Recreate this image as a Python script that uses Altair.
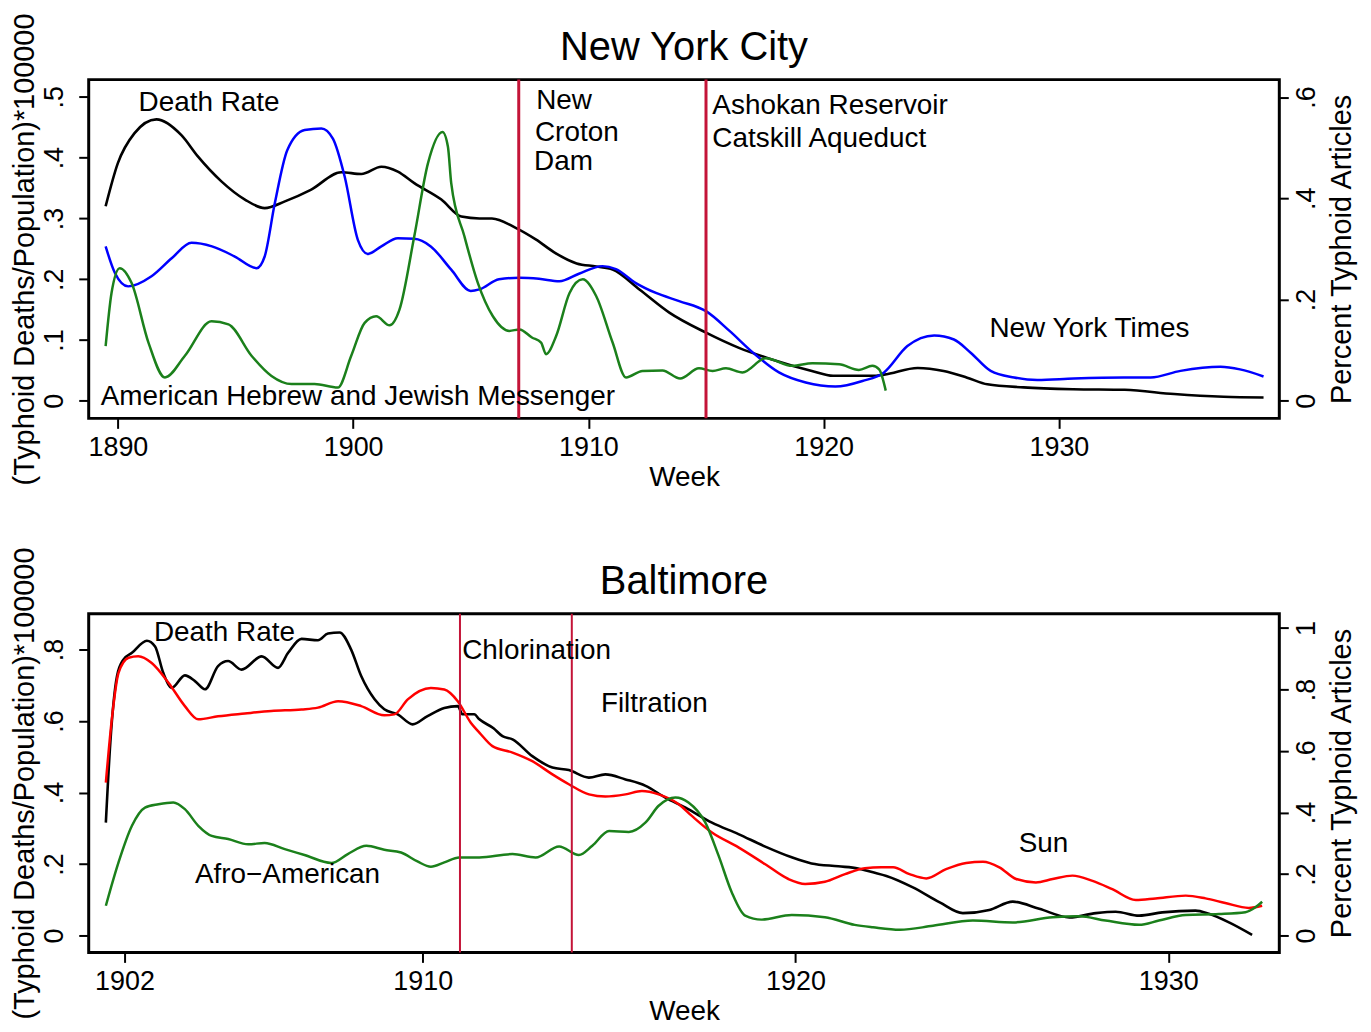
import altair as alt
import pandas as pd

FONT = "Liberation Sans"

# ---------------- New York City ----------------
nyc_death_year = [1889.48, 1890.0, 1890.7, 1891.64, 1892.7, 1893.4, 1894.4, 1895.4, 1896.24, 1897.1,
                  1898.2, 1899.5, 1900.35, 1901.2, 1901.9, 1902.6, 1903.75, 1904.6, 1905.37, 1905.9,
                  1906.93, 1907.78, 1908.6, 1909.5, 1910.33, 1911.03, 1912.17, 1913.44, 1915.0, 1916.4,
                  1917.8, 1919.5, 1920.4, 1922.07, 1922.57, 1924.0, 1925.1, 1926.1, 1926.96, 1928.5,
                  1930.6, 1932.8, 1934.9, 1937.0, 1938.7]
nyc_death_rate = [0.320, 0.391, 0.440, 0.463, 0.437, 0.402, 0.361, 0.331, 0.317, 0.328,
                  0.347, 0.376, 0.373, 0.385, 0.377, 0.358, 0.331, 0.303, 0.300, 0.300,
                  0.284, 0.265, 0.243, 0.226, 0.221, 0.216, 0.183, 0.145, 0.112, 0.087,
                  0.068, 0.049, 0.041, 0.041, 0.043, 0.054, 0.049, 0.038, 0.027, 0.022,
                  0.019, 0.018, 0.011, 0.0066, 0.0054]

nyt_year = [1889.48, 1889.87, 1890.44, 1891.43, 1892.3, 1893.13, 1894.0, 1894.97, 1895.9, 1896.24,
            1896.67, 1897.2, 1897.94, 1898.65, 1899.14, 1899.64, 1900.2, 1900.63, 1901.2, 1901.9,
            1902.6, 1903.3, 1904.17, 1905.0, 1905.37, 1906.2, 1907.07, 1907.9, 1908.77, 1909.6,
            1910.6, 1911.17, 1912.0, 1912.87, 1913.86, 1915.0, 1916.0, 1917.0, 1918.1, 1919.24,
            1920.5, 1921.65, 1922.57, 1923.56, 1924.7, 1925.54, 1926.25, 1927.1, 1928.1, 1929.08,
            1930.64, 1932.76, 1933.9, 1935.17, 1936.87, 1937.7, 1938.7]
nyt_pct = [0.305, 0.253, 0.226, 0.246, 0.282, 0.312, 0.305, 0.285, 0.262, 0.285,
           0.390, 0.495, 0.535, 0.538, 0.518, 0.443, 0.318, 0.290, 0.305, 0.321,
           0.320, 0.305, 0.259, 0.217, 0.220, 0.240, 0.243, 0.241, 0.236, 0.251,
           0.266, 0.260, 0.233, 0.213, 0.197, 0.177, 0.138, 0.095, 0.056, 0.036,
           0.028, 0.039, 0.056, 0.108, 0.129, 0.121, 0.095, 0.059, 0.046, 0.041,
           0.044, 0.046, 0.046, 0.059, 0.067, 0.062, 0.048]

ahjm_year = [1889.48, 1889.73, 1890.08, 1890.58, 1891.3, 1892.0, 1892.85, 1893.98, 1894.7, 1895.68,
             1896.53, 1897.38, 1898.36, 1899.35, 1899.92, 1900.49, 1900.98, 1901.55, 1901.97, 1902.6,
             1903.18, 1903.8, 1904.03, 1904.17, 1904.73, 1905.3, 1905.94, 1906.64, 1907.07, 1907.6,
             1907.99, 1908.2, 1908.63, 1909.2, 1909.76, 1910.33, 1911.03, 1911.6, 1912.3, 1913.15,
             1913.9, 1914.7, 1915.28, 1915.85, 1916.55, 1917.54, 1918.67, 1919.52, 1920.66, 1921.5,
             1922.07, 1922.36, 1922.64]
ahjm_pct = [0.108, 0.213, 0.262, 0.233, 0.115, 0.046, 0.089, 0.157, 0.151, 0.089,
            0.049, 0.033, 0.033, 0.026, 0.089, 0.154, 0.167, 0.149, 0.180, 0.325,
            0.469, 0.531, 0.502, 0.430, 0.325, 0.233, 0.167, 0.138, 0.141, 0.125,
            0.115, 0.092, 0.128, 0.213, 0.240, 0.207, 0.115, 0.046, 0.059, 0.060,
            0.044, 0.064, 0.059, 0.064, 0.056, 0.084, 0.069, 0.074, 0.072, 0.061,
            0.069, 0.062, 0.020]

nyc_events = [1907.04, 1915.0]
nyc_notes = ["Death Rate", "New", "Croton", "Dam", "Ashokan Reservoir", "Catskill Aqueduct",
             "New York Times", "American Hebrew and Jewish Messenger"]
nyc_note_year = [1890.88, 1907.78, 1907.73, 1907.69, 1915.27, 1915.27, 1927.05, 1889.27]
nyc_note_val = [0.490, 0.493, 0.441, 0.393, 0.485, 0.431, 0.118, 0.0066]

# ---------------- Baltimore ----------------
bal_death_year = [1901.50, 1901.62, 1901.80, 1901.97, 1902.2, 1902.6, 1902.82, 1903.04, 1903.27, 1903.62,
                  1903.89, 1904.16, 1904.51, 1904.78, 1905.14, 1905.68, 1906.12, 1906.39, 1906.75, 1907.19,
                  1907.46, 1907.77, 1908.08, 1908.35, 1908.71, 1908.97, 1909.33, 1909.73, 1910.13, 1910.58,
                  1910.94, 1911.07, 1911.38, 1911.52, 1911.9, 1912.14, 1912.41, 1912.94, 1913.48, 1913.92,
                  1914.46, 1914.9, 1915.44, 1915.98, 1916.51, 1917.05, 1917.76, 1918.47, 1919.19, 1919.9,
                  1920.43, 1921.15, 1921.68, 1922.08, 1922.44, 1923.15, 1923.87, 1924.49, 1925.2, 1925.83,
                  1926.54, 1927.35, 1928.06, 1928.59, 1929.22, 1929.84, 1930.73, 1931.09, 1931.63, 1932.25]
bal_death_rate = [0.316, 0.540, 0.726, 0.772, 0.791, 0.825, 0.809, 0.735, 0.693, 0.728,
                  0.712, 0.689, 0.754, 0.768, 0.744, 0.781, 0.749, 0.791, 0.830, 0.826,
                  0.845, 0.848, 0.800, 0.726, 0.661, 0.633, 0.619, 0.591, 0.614, 0.637,
                  0.642, 0.619, 0.619, 0.605, 0.580, 0.558, 0.549, 0.502, 0.470, 0.463,
                  0.442, 0.451, 0.437, 0.419, 0.386, 0.358, 0.316, 0.284, 0.249, 0.219,
                  0.202, 0.194, 0.188, 0.177, 0.167, 0.135, 0.093, 0.063, 0.072, 0.095,
                  0.075, 0.051, 0.063, 0.067, 0.056, 0.065, 0.070, 0.061, 0.037, 0.002]

sun_year = [1901.50, 1901.66, 1901.84, 1902.11, 1902.37, 1902.73, 1903.18, 1903.62, 1903.98, 1904.51,
            1905.23, 1905.94, 1906.75, 1907.19, 1907.73, 1908.35, 1908.97, 1909.24, 1909.6, 1910.22,
            1910.58, 1910.94, 1911.29, 1911.52, 1911.87, 1912.41, 1912.94, 1913.48, 1913.92, 1914.46,
            1914.9, 1915.44, 1915.88, 1916.33, 1916.87, 1917.22, 1917.76, 1918.47, 1919.19, 1919.81,
            1920.26, 1920.79, 1921.33, 1921.86, 1922.3, 1922.62, 1923.06, 1923.51, 1924.04, 1924.58,
            1925.03, 1925.47, 1925.92, 1926.45, 1926.9, 1927.43, 1927.97, 1928.5, 1929.13, 1929.66,
            1930.47, 1931.0, 1931.53, 1932.16, 1932.52]
sun_pct = [0.497, 0.703, 0.854, 0.903, 0.908, 0.886, 0.822, 0.746, 0.703, 0.713,
           0.722, 0.730, 0.735, 0.741, 0.762, 0.746, 0.716, 0.719, 0.768, 0.805,
           0.800, 0.762, 0.692, 0.660, 0.616, 0.595, 0.567, 0.524, 0.492, 0.459,
           0.452, 0.459, 0.470, 0.459, 0.427, 0.389, 0.335, 0.287, 0.232, 0.184,
           0.168, 0.175, 0.200, 0.219, 0.222, 0.222, 0.200, 0.186, 0.216, 0.236,
           0.240, 0.222, 0.184, 0.173, 0.184, 0.195, 0.178, 0.151, 0.116, 0.121,
           0.130, 0.121, 0.106, 0.090, 0.097]

afro_year = [1901.5, 1901.84, 1902.2, 1902.55, 1902.91, 1903.31, 1903.62, 1903.98, 1904.34, 1904.78,
             1905.32, 1905.76, 1906.3, 1906.83, 1907.55, 1907.99, 1908.49, 1908.97, 1909.42, 1909.86,
             1910.22, 1910.58, 1910.98, 1911.52, 1912.41, 1913.03, 1913.66, 1914.19, 1914.55, 1915.0,
             1915.53, 1915.98, 1916.33, 1916.78, 1917.13, 1917.58, 1917.94, 1918.29, 1918.65, 1919.09,
             1919.9, 1920.79, 1921.59, 1922.08, 1922.8, 1923.69, 1924.76, 1925.83, 1926.9, 1927.61,
             1928.32, 1929.22, 1929.75, 1930.47, 1931.36, 1932.07, 1932.34, 1932.52]
afro_pct = [0.097, 0.238, 0.357, 0.416, 0.427, 0.433, 0.411, 0.357, 0.324, 0.314,
            0.297, 0.301, 0.281, 0.262, 0.236, 0.265, 0.292, 0.279, 0.270, 0.241,
            0.224, 0.238, 0.254, 0.254, 0.265, 0.254, 0.290, 0.262, 0.292, 0.340,
            0.337, 0.368, 0.422, 0.449, 0.433, 0.368, 0.259, 0.141, 0.065, 0.052,
            0.067, 0.060, 0.035, 0.027, 0.019, 0.032, 0.049, 0.043, 0.060, 0.063,
            0.049, 0.035, 0.049, 0.067, 0.070, 0.076, 0.092, 0.110]

bal_events = [1911.0, 1914.0]
bal_notes = ["Death Rate", "Chlorination", "Filtration", "Sun", "Afro\u2212American"]
bal_note_year = [1902.79, 1911.06, 1914.78, 1925.99, 1903.89]
bal_note_val = [0.845, 0.797, 0.647, 0.256, 0.169]

RULE_COLOR = "#c41438"


def ylabel_expr():
    return ("datum.value == 0 ? '0' : datum.value == 1 ? '1' : "
            "replace(format(datum.value, '.1f'), '0.', '.')")


def panel(title, dyear, drate, papers, events, rule_w, notes, nyear, nval,
          xdom, xticks, ldom, lticks, rdom, rticks):
    xaxis = alt.Axis(values=xticks, format="d", title="Week", grid=False, domain=False,
                     tickSize=10, tickWidth=2, tickColor="black", labelFontSize=27,
                     labelColor="black", labelPadding=6, titleFontSize=28,
                     titleFontWeight="normal", titleColor="black", titlePadding=3,
                     labelFont=FONT, titleFont=FONT)
    xenc = alt.X("year:Q", scale=alt.Scale(domain=xdom, nice=False, zero=False), axis=xaxis)

    death_df = pd.DataFrame({"year": dyear, "value": drate})
    death = alt.Chart(death_df).mark_line(color="black", strokeWidth=2.6, interpolate="monotone").encode(
        x=xenc,
        y=alt.Y("value:Q", scale=alt.Scale(domain=ldom, nice=False, zero=False),
                axis=alt.Axis(orient="left", values=lticks, labelExpr=ylabel_expr(),
                              title="(Typhoid Deaths/Population)*100000", grid=False,
                              domain=False, tickSize=10, tickWidth=2, tickColor="black",
                              labelAngle=270, labelAlign="center", labelBaseline="bottom",
                              labelFontSize=27, labelColor="black",
                              labelPadding=10, titleFontSize=29, titleFontWeight="normal",
                              titleColor="black", titlePadding=1, labelFont=FONT,
                              titleFont=FONT)),
    )

    rows = []
    for name, yrs, vals, col in papers:
        for a, b in zip(yrs, vals):
            rows.append({"year": a, "pct": b, "paper": name})
    paper_df = pd.DataFrame(rows)
    names = [p[0] for p in papers]
    colors = [p[3] for p in papers]
    paper = alt.Chart(paper_df).mark_line(strokeWidth=2.5, interpolate="monotone").encode(
        x=xenc,
        y=alt.Y("pct:Q", scale=alt.Scale(domain=rdom, nice=False, zero=False),
                axis=alt.Axis(orient="right", values=rticks, labelExpr=ylabel_expr(),
                              title="Percent Typhoid Articles", grid=False, domain=False,
                              tickSize=9, tickWidth=2, tickColor="black", labelAngle=270,
                              labelAlign="center", labelBaseline="top",
                              labelFontSize=27, labelColor="black", labelPadding=5,
                              titleFontSize=29, titleFontWeight="normal", titleColor="black",
                              titleAngle=270, titleBaseline="top", titlePadding=8,
                              labelFont=FONT, titleFont=FONT)),
        color=alt.Color("paper:N", scale=alt.Scale(domain=names, range=colors), legend=None),
        detail="paper:N",
    )

    ev_df = pd.DataFrame({"year": events})
    rules = alt.Chart(ev_df).mark_rule(color=RULE_COLOR, strokeWidth=rule_w).encode(x=xenc)

    note_df = pd.DataFrame({"year": nyear, "value": nval, "label": notes})
    text = alt.Chart(note_df).mark_text(align="left", baseline="middle", fontSize=28,
                                        font=FONT, color="black").encode(
        x=xenc,
        y=alt.Y("value:Q", scale=alt.Scale(domain=ldom, nice=False, zero=False), axis=None),
        text="label:N",
    )

    return alt.layer(death, paper, rules, text).resolve_scale(y="independent").properties(
        width=1195, height=340,
        title=alt.TitleParams(title, fontSize=40, fontWeight="normal", font=FONT,
                              color="black", anchor="middle", offset=-55),
    )


nyc = panel("New York City", nyc_death_year, nyc_death_rate,
            [("New York Times", nyt_year, nyt_pct, "#0000ff"),
             ("American Hebrew and Jewish Messenger", ahjm_year, ahjm_pct, "#1b801b")],
            nyc_events, 3, nyc_notes, nyc_note_year, nyc_note_val,
            [1888.76, 1939.37], [1890, 1900, 1910, 1920, 1930],
            [-0.029, 0.5284], [0, 0.1, 0.2, 0.3, 0.4, 0.5],
            [-0.0348, 0.6345], [0, 0.2, 0.4, 0.6])

bal = panel("Baltimore", bal_death_year, bal_death_rate,
            [("Sun", sun_year, sun_pct, "#ff0000"),
             ("Afro-American", afro_year, afro_pct, "#1b801b")],
            bal_events, 2, bal_notes, bal_note_year, bal_note_val,
            [1901.04, 1932.98], [1902, 1910, 1920, 1930],
            [-0.0469, 0.9006], [0, 0.2, 0.4, 0.6, 0.8],
            [-0.0545, 1.0464], [0, 0.2, 0.4, 0.6, 0.8, 1.0])

chart = alt.vconcat(nyc, bal, spacing=52).resolve_scale(color="independent").properties(
    padding={"left": 1, "top": 1, "right": 5, "bottom": 0},
    background="white",
).configure(font=FONT, view=alt.ViewConfig(stroke="black", strokeWidth=3))

chart.save("out.html", embed_options={"renderer": "svg", "actions": False})
